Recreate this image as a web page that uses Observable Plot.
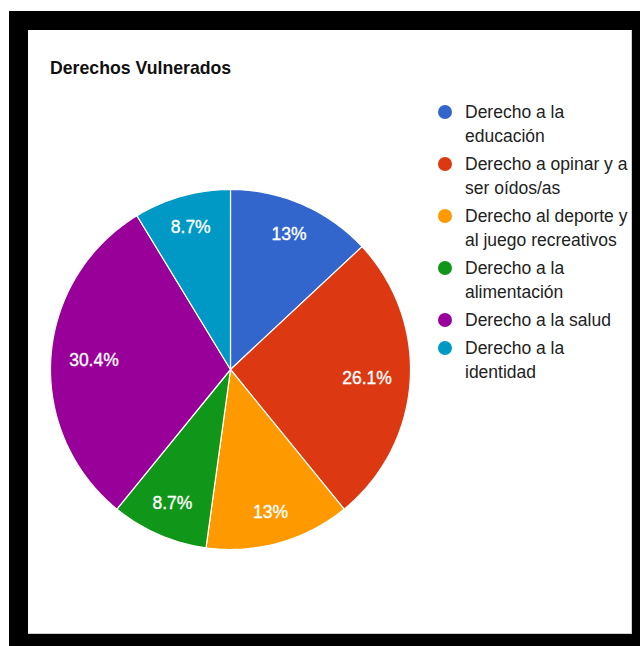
<!DOCTYPE html>
<html>
<head>
<meta charset="utf-8">
<script src="https://cdn.jsdelivr.net/npm/d3@7"></script>
<script src="https://cdn.jsdelivr.net/npm/@observablehq/plot@0.6"></script>
<style>
  html, body { margin: 0; padding: 0; background: #fff; width: 640px; height: 646px; overflow: hidden; }
  body { position: relative; font-family: "Liberation Sans", Arial, sans-serif; }
  #frame { position: absolute; left: 9px; top: 11px; width: 631px; height: 635px; background: #000; }
  #inner { position: absolute; left: 28px; top: 30px; width: 603px; height: 603px; background: #fff;
           border-right: 1px solid #d0d0d0; border-bottom: 1px solid #d0d0d0; }
  #title { position: absolute; left: 50px; top: 57px; font-size: 17.7px; font-weight: bold; color: #111; line-height: 22px; white-space: nowrap; }
  #chart { position: absolute; left: 30px; top: 169px; }
  #legend { position: absolute; left: 438px; top: 100px; }
  .item { display: flex; align-items: flex-start; margin-bottom: 4px; }
  .dot { width: 14px; height: 14px; border-radius: 50%; margin-top: 5px; margin-right: 13px; flex: none; }
  .lab { width: 170px; font-size: 17.5px; line-height: 24px; color: #222; }
</style>
</head>
<body>
<div id="frame"></div>
<div id="inner"></div>
<div id="title">Derechos Vulnerados</div>
<div id="chart"></div>
<div id="legend"></div>
<script>
// ---- data ----
const categories = [
  "Derecho a la educación",
  "Derecho a opinar y a ser oídos/as",
  "Derecho al deporte y al juego recreativos",
  "Derecho a la alimentación",
  "Derecho a la salud",
  "Derecho a la identidad"
];
const values = [3, 6, 3, 2, 7, 2];
const percentLabels = ["13%", "26.1%", "13%", "8.7%", "30.4%", "8.7%"];
const colors = ["#3366cc", "#dc3912", "#ff9900", "#109618", "#990099", "#0099c6"];

// ---- geometry (unit circle, clockwise from 12 o'clock) ----
const pie = d3.pie().sort(null).value(d => d)(values);
const polys = [];
const labelPts = [];
pie.forEach((p, i) => {
  const cat = categories[i];
  polys.push({cat, x: 0, y: 0, k: 0});
  const n = Math.max(2, Math.ceil((p.endAngle - p.startAngle) / (Math.PI / 180)));
  for (let j = 0; j <= n; j++) {
    const a = p.startAngle + (p.endAngle - p.startAngle) * j / n;
    polys.push({cat, x: Math.sin(a), y: Math.cos(a), k: j + 1});
  }
  const mid = (p.startAngle + p.endAngle) / 2;
  const halfW = percentLabels[i].length * 4.9 / 180; // approx half text width in radius units
  const r = 0.835 - 0.55 * halfW * Math.abs(Math.sin(mid));
  labelPts.push({x: Math.sin(mid) * r, y: Math.cos(mid) * r, text: percentLabels[i]});
});

const D = 200 / 180;
const chart = Plot.plot({
  width: 400,
  height: 400,
  margin: 0,
  style: {background: "transparent"},
  x: {domain: [-D, D], axis: null},
  y: {domain: [-D, D], axis: null},
  color: {domain: categories, range: colors},
  marks: [
    Plot.line(polys, {x: "x", y: "y", z: "cat", fill: "cat", stroke: "#fff", strokeWidth: 1.2, curve: "linear-closed"}),
    Plot.text(labelPts, {x: "x", y: "y", text: "text", fill: "#fff", stroke: "#fff", strokeWidth: 0.35, fontSize: 17.5, fontFamily: "Liberation Sans, Arial, sans-serif"})
  ]
});
document.getElementById("chart").appendChild(chart);

// ---- legend ----
const legend = document.getElementById("legend");
categories.forEach((c, i) => {
  const item = document.createElement("div");
  item.className = "item";
  const dot = document.createElement("div");
  dot.className = "dot";
  dot.style.background = colors[i];
  const lab = document.createElement("div");
  lab.className = "lab";
  lab.textContent = c;
  item.appendChild(dot);
  item.appendChild(lab);
  legend.appendChild(item);
});
</script>
</body>
</html>
